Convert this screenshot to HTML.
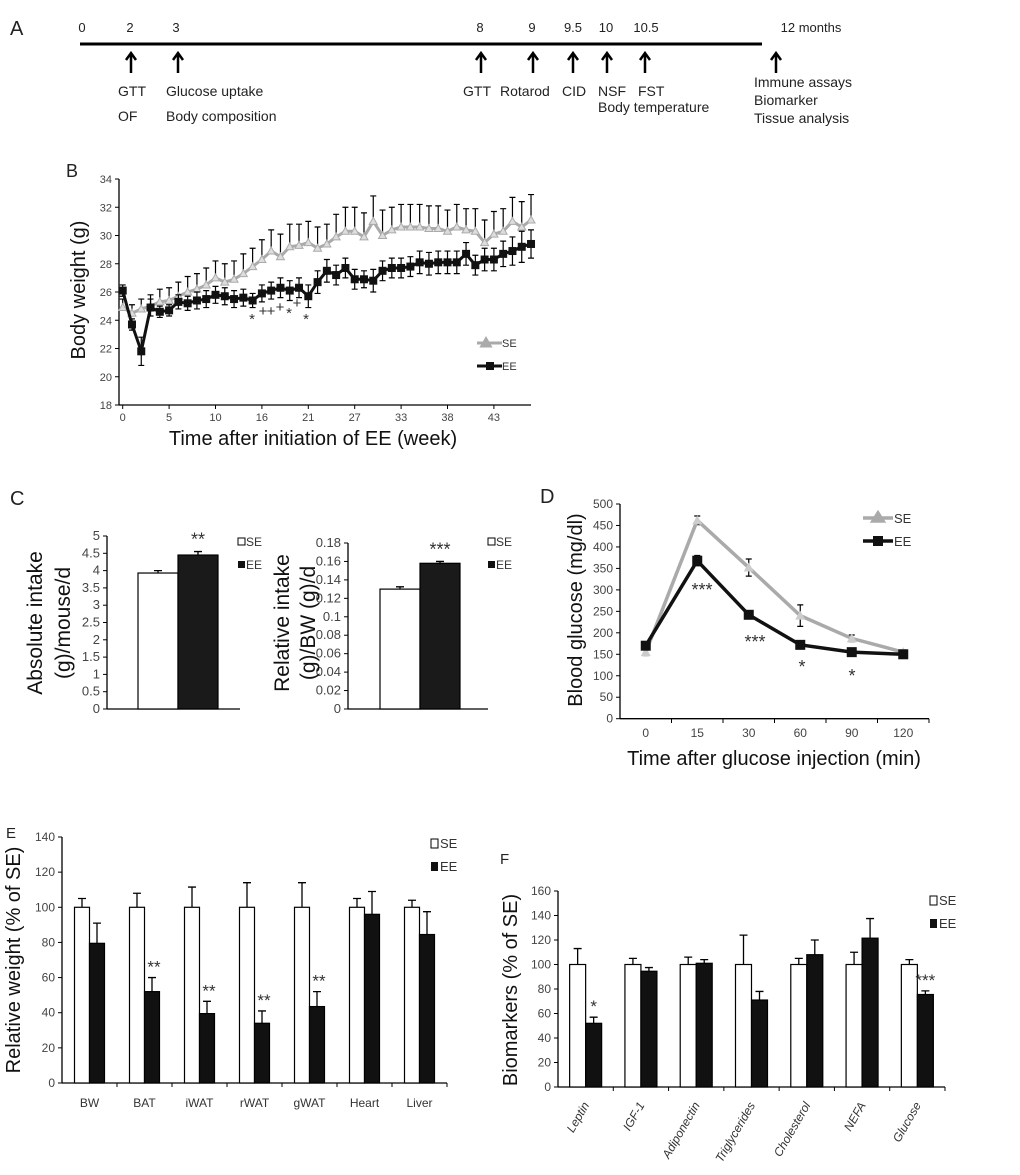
<!DOCTYPE html>
<html><head><meta charset="utf-8"><style>
html,body{margin:0;padding:0;background:#fff;}
svg{display:block;font-family:"Liberation Sans",Arial,sans-serif;}
.tk{font-size:11px;fill:#444;}
</style></head><body>
<svg id="fig" width="1020" height="1175" viewBox="0 0 1020 1175" xmlns="http://www.w3.org/2000/svg">
<g id="pA">
<text x="10" y="35" font-size="20" fill="#222">A</text>
<line x1="80" y1="44" x2="762" y2="44" stroke="#000" stroke-width="3"/>
</g>
<g id="pB"></g>
<g id="pC"></g>
<g id="pD"></g>
<g id="pE"></g>
<g id="pF"></g>
</svg>
<script>
// ---------- data ----------
const timelineMonths = ["0","2","3","8","9","9.5","10","10.5","12 months"];
const bWeekTicks = ["0","5","10","16","21","27","33","38","43"];
const bSE = [24.9,24.5,24.8,25.0,25.3,25.4,25.7,26.0,26.2,26.5,27.0,26.7,26.9,27.3,27.8,28.3,28.9,28.5,29.2,29.3,29.5,29.1,29.4,29.9,30.3,30.3,29.9,31.0,30.0,30.4,30.6,30.6,30.6,30.5,30.5,30.3,30.6,30.4,30.3,29.5,30.1,30.3,31.0,30.6,31.1];
const bSEerr = [0.6,0.6,0.7,0.8,0.9,0.9,1.0,1.1,1.1,1.2,1.2,1.3,1.3,1.4,1.3,1.4,1.5,1.6,1.6,1.5,1.5,1.5,1.4,1.6,1.7,1.7,1.7,1.8,1.8,1.6,1.6,1.6,1.6,1.6,1.6,1.5,1.6,1.5,1.6,1.6,1.6,1.6,1.7,1.8,1.8];
const bEE = [26.1,23.7,21.8,24.9,24.6,24.7,25.3,25.2,25.4,25.5,25.8,25.7,25.5,25.6,25.4,25.9,26.1,26.3,26.1,26.3,25.7,26.7,27.5,27.2,27.7,26.9,26.9,26.8,27.5,27.7,27.7,27.8,28.1,28.0,28.1,28.1,28.1,28.7,27.9,28.3,28.3,28.7,28.9,29.2,29.4];
const bEEerr = [0.4,0.4,1.0,0.6,0.4,0.4,0.5,0.5,0.6,0.6,0.6,0.6,0.6,0.6,0.5,0.6,0.6,0.7,0.7,0.7,0.8,0.8,0.8,0.7,0.7,0.7,0.6,0.8,0.7,0.7,0.7,0.7,0.8,0.8,0.8,0.8,0.8,0.8,0.7,0.8,0.8,0.9,1.0,1.1,1.0];
const cAbs = [3.93,4.45];
const cAbsErr = [0.07,0.1];
const cRel = [0.130,0.158];
const cRelErr = [0.0025,0.002];
const dTimes = ["0","15","30","60","90","120"];
const dSE = [155,462,352,240,187,155];
const dSEerr = [8,10,20,25,8,5];
const dEE = [170,368,242,172,155,150];
const dEEerr = [8,12,6,6,5,5];
const eCats = ["BW","BAT","iWAT","rWAT","gWAT","Heart","Liver"];
const eSE = [100,100,100,100,100,100,100];
const eSEerr = [5,8,11.5,14,14,5,4];
const eEE = [79.5,52,39.5,34,43.5,96,84.5];
const eEEerr = [11.5,8,7,7,8.5,13,13];
const eSig = ["","**","**","**","**","",""];
const fCats = ["Leptin","IGF-1","Adiponectin","Triglycerides","Cholesterol","NEFA","Glucose"];
const fSE = [100,100,100,100,100,100,100];
const fSEerr = [13,5,6,24,5,10,4];
const fEE = [52,94.5,101,71,108,121.5,75.5];
const fEEerr = [5,3,3,7,12,16,3];
const fSig = ["*","","","","","","***"];

const NS="http://www.w3.org/2000/svg";
function mk(parent,tag,attrs,txt){const e=document.createElementNS(NS,tag);for(const k in attrs)e.setAttribute(k,attrs[k]);if(txt!==undefined)e.textContent=txt;parent.appendChild(e);return e;}
function lin(d0,d1,r0,r1){return v=>r0+(v-d0)*(r1-r0)/(d1-d0);}

// ---------- A ----------
(function(){
 const g=document.getElementById('pA');
 const xs=[82,130,176,480,532,573,606,646,811];
 const arrows=[131,178,481,533,573,607,645,776];
 timelineMonths.forEach((m,i)=>{const t=mk(g,'text',{x:xs[i],y:32,'font-size':13,fill:'#222','text-anchor':'middle'},m);
 
 });
 arrows.forEach(x=>{const a=mk(g,'path',{d:`M${x} 73 V55 M${x-5} 60 L${x} 53 L${x+5} 60`,stroke:'#000','stroke-width':2.5,fill:'none'});
 
 });
 const labs=[["GTT",118,96],["OF",118,121],["Glucose uptake",166,96],["Body composition",166,121],["GTT",463,96],["Rotarod",500,96],["CID",562,96],["NSF",598,96],["FST",638,96],["Body temperature",598,112],["Immune assays",754,87],["Biomarker",754,105],["Tissue analysis",754,123]];
 labs.forEach(l=>{const t=mk(g,'text',{x:l[1],y:l[2],'font-size':14,fill:'#222'},l[0]);
 
 });
})();

function axisY(g,x,y0,y1,ticks,fmt,fs){
 mk(g,'line',{x1:x,y1:y0,x2:x,y2:y1,stroke:'#000','stroke-width':1.3});
 ticks.forEach(t=>{mk(g,'line',{x1:x-4,y1:t.y,x2:x,y2:t.y,stroke:'#000'});
 const tx=mk(g,'text',{x:x-7,y:t.y+4,'font-size':fs||11,fill:'#444','text-anchor':'end'},t.l);
 
 });
}
function errbar(g,x,yv,ye,w,up){const y2=up===false?ye:ye;mk(g,'path',{d:`M${x} ${yv} V${y2} M${x-w} ${y2} H${x+w}`,stroke:'#000','stroke-width':1.3,fill:'none'});}

// ---------- B ----------
(function(){
 const g=document.getElementById('pB');
 mk(g,'text',{x:66,y:177,'font-size':18,fill:'#222'},'B');
 const y=lin(18,34,405,179), x=i=>122.7+i*9.28;
 const ticks=[];for(let v=18;v<=34;v+=2)ticks.push({y:y(v),l:String(v)});
 axisY(g,119,179,405,ticks);
 mk(g,'line',{x1:119,y1:405,x2:531,y2:405,stroke:'#000','stroke-width':1.3});
 bWeekTicks.forEach((l,k)=>{const xx=x(k*5);mk(g,'line',{x1:xx,y1:405,x2:xx,y2:409,stroke:'#000'});
 const t=mk(g,'text',{x:xx,y:421,'font-size':11,fill:'#444','text-anchor':'middle'},l);
 
 });
 function series(vals,errs,color,name,marker){
  vals.forEach((v,i)=>{const e=mk(g,'path',{d:`M${x(i)} ${y(v)} V${y(v+errs[i])} M${x(i)-3} ${y(v+errs[i])} H${x(i)+3}`+(name==='ee'?` M${x(i)} ${y(v)} V${y(v-errs[i])} M${x(i)-3} ${y(v-errs[i])} H${x(i)+3}`:''),stroke:'#000','stroke-width':1.2,fill:'none'});
  
  });
  const p=mk(g,'polyline',{points:vals.map((v,i)=>x(i)+','+y(v)).join(' '),fill:'none',stroke:color,'stroke-width':3});
  
  
  vals.forEach((v,i)=>{let m;if(marker==='sq')m=mk(g,'rect',{x:x(i)-4,y:y(v)-4,width:8,height:8,fill:color});
  else m=mk(g,'path',{d:`M${x(i)} ${y(v)-4} L${x(i)+4} ${y(v)+3} L${x(i)-4} ${y(v)+3}Z`,fill:'#ddd',stroke:color});
  
  });
 }
 series(bSE,bSEerr,'#aaa','se','tri');
 series(bEE,bEEerr,'#111','ee','sq');
 [["*",252,324],["+",263,316],["+",271,316],["+",280,312],["*",289,318],["+",297,308],["*",306,324]].forEach(s=>{const t=mk(g,'text',{x:s[1],y:s[2],'font-size':15,fill:'#333','text-anchor':'middle'},s[0]);
 
 });
 const l1=mk(g,'path',{d:'M477 343 H502 M486 339 L490 346 L482 346Z',stroke:'#aaa','stroke-width':3,fill:'#aaa'});
 
 mk(g,'text',{x:502,y:347,'font-size':11,fill:'#333'},'SE');
 const l2=mk(g,'path',{d:'M477 366 H502',stroke:'#111','stroke-width':3});
 
 mk(g,'rect',{x:486,y:362,width:8,height:8,fill:'#111'});
 mk(g,'text',{x:502,y:370,'font-size':11,fill:'#333'},'EE');
 mk(g,'text',{x:313,y:445,'font-size':20,fill:'#111','text-anchor':'middle'},'Time after initiation of EE (week)');
 mk(g,'text',{x:0,y:0,'font-size':20,fill:'#111','text-anchor':'middle',transform:'translate(85 290) rotate(-90)'},'Body weight (g)');
})();

// ---------- C ----------
function barPair(g,ax,top,bot,xEnd,max,step,dec,vals,errs,sig,bx,legX,titles,tX){
 const y=lin(0,max,bot,top);const ticks=[];
 for(let k=0;k<=Math.round(max/step);k++){const v=k*step;ticks.push({y:y(v),l:(dec?v.toFixed(dec).replace(/^0\./,'0.').replace(/(\.\d*?)0+$/,'$1').replace(/\.$/,''):String(v))});}
 axisY(g,ax,top,bot,ticks,null,13);
 mk(g,'line',{x1:ax,y1:bot,x2:xEnd,y2:bot,stroke:'#000','stroke-width':1.3});
 const w=bx[1]-bx[0];
 vals.forEach((v,i)=>{const r=mk(g,'rect',{x:bx[i],y:y(v),width:w,height:bot-y(v),fill:i?'#1a1a1a':'#fff',stroke:'#000','stroke-width':1.2});
 
 
 errbar(g,bx[i]+w/2,y(v),y(v+errs[i]),4);});
 const s=mk(g,'text',{x:bx[1]+w/2,y:y(vals[1]+errs[1])-6,'font-size':18,fill:'#333','text-anchor':'middle'},sig);
 
 mk(g,'rect',{x:legX,y:538,width:7,height:7,fill:'#fff',stroke:'#000'});
 mk(g,'text',{x:legX+8,y:546,'font-size':12,fill:'#333'},'SE');
 mk(g,'rect',{x:legX,y:561,width:7,height:7,fill:'#111'});
 mk(g,'text',{x:legX+8,y:569,'font-size':12,fill:'#333'},'EE');
 titles.forEach((t,i)=>{const e=mk(g,'text',{x:0,y:0,'font-size':21,fill:'#111','text-anchor':'middle',transform:`translate(${tX[i]} 623) rotate(-90)`},t);
 
 });
}
(function(){
 const g=document.getElementById('pC');
 mk(g,'text',{x:10,y:505,'font-size':20,fill:'#222'},'C');
 barPair(g,107,536,709,240,5,0.5,1,cAbs,cAbsErr,'**',[138,178],238,['Absolute intake','(g)/mouse/d'],[42,70]);
 barPair(g,348,543,709,488,0.18,0.02,2,cRel,cRelErr,'***',[380,420],488,['Relative intake','(g)/BW (g)/d'],[289,315]);
})();

// ---------- D ----------
(function(){
 const g=document.getElementById('pD');
 mk(g,'text',{x:540,y:503,'font-size':20,fill:'#222'},'D');
 const y=lin(0,500,718.7,504), x=i=>645.75+i*51.5;
 const ticks=[];for(let v=0;v<=500;v+=50)ticks.push({y:y(v),l:String(v)});
 axisY(g,620,504,718.7,ticks,null,12);
 mk(g,'line',{x1:620,y1:718.7,x2:929,y2:718.7,stroke:'#000','stroke-width':1.3});
 dTimes.forEach((l,i)=>{mk(g,'line',{x1:620+(i+1)*51.5,y1:718.7,x2:620+(i+1)*51.5,y2:723,stroke:'#000'});
 const t=mk(g,'text',{x:x(i),y:737,'font-size':12,fill:'#444','text-anchor':'middle'},l);
 
 });
 function ser(vals,errs,color,name,sq){
  vals.forEach((v,i)=>{const e=mk(g,'path',{d:`M${x(i)-3} ${y(v+errs[i])} H${x(i)+3} M${x(i)} ${y(v+errs[i])} V${y(v-errs[i])} M${x(i)-3} ${y(v-errs[i])} H${x(i)+3}`,stroke:'#000','stroke-width':1.2,fill:'none'});
  
  });
  const p=mk(g,'polyline',{points:vals.map((v,i)=>x(i)+','+y(v)).join(' '),fill:'none',stroke:color,'stroke-width':3.5});
  
  
  vals.forEach((v,i)=>{const m=sq?mk(g,'rect',{x:x(i)-5,y:y(v)-5,width:10,height:10,fill:color}):mk(g,'path',{d:`M${x(i)} ${y(v)-5} L${x(i)+5} ${y(v)+4} L${x(i)-5} ${y(v)+4}Z`,fill:'#ccc'});
  
  });
 }
 ser(dSE,dSEerr,'#aaa','se',false);
 ser(dEE,dEEerr,'#111','ee',true);
 [["***",702,596],["***",755,648],["*",802,673],["*",852,682]].forEach(s=>{const t=mk(g,'text',{x:s[1],y:s[2],'font-size':18,fill:'#333','text-anchor':'middle'},s[0]);
 
 });
 mk(g,'path',{d:'M863 518 H893 M878 513 L883 521 L873 521Z',stroke:'#aaa','stroke-width':3.5,fill:'#aaa'});
 mk(g,'text',{x:894,y:523,'font-size':13,fill:'#333'},'SE');
 mk(g,'path',{d:'M863 541 H893',stroke:'#111','stroke-width':3.5});
 mk(g,'rect',{x:873,y:536,width:10,height:10,fill:'#111'});
 mk(g,'text',{x:894,y:546,'font-size':13,fill:'#333'},'EE');
 mk(g,'text',{x:774,y:765,'font-size':20,fill:'#111','text-anchor':'middle'},'Time after glucose injection (min)');
 mk(g,'text',{x:0,y:0,'font-size':20,fill:'#111','text-anchor':'middle',transform:'translate(582 610) rotate(-90)'},'Blood glucose (mg/dl)');
})();

// ---------- E / F ----------
function grouped(g,o){
 const y=lin(0,o.max,o.bot,o.top);const ticks=[];
 for(let v=0;v<=o.max;v+=20)ticks.push({y:y(v),l:String(v)});
 axisY(g,o.ax,o.top,o.bot,ticks,null,12);
 mk(g,'line',{x1:o.ax,y1:o.bot,x2:o.xEnd,y2:o.bot,stroke:'#000','stroke-width':1.3});
 const cw=(o.xEnd-o.ax)/o.cats.length, bw=o.bw;
 o.cats.forEach((c,i)=>{
  const cx=o.ax+cw*(i+0.5);
  mk(g,'line',{x1:o.ax+cw*(i+1),y1:o.bot,x2:o.ax+cw*(i+1),y2:o.bot+4,stroke:'#000'});
  const r1=mk(g,'rect',{x:cx-bw,y:y(o.se[i]),width:bw,height:o.bot-y(o.se[i]),fill:'#fff',stroke:'#000','stroke-width':1.2});
  
  
  errbar(g,cx-bw/2,y(o.se[i]),y(o.se[i]+o.seErr[i]),4);
  const r2=mk(g,'rect',{x:cx,y:y(o.ee[i]),width:bw,height:o.bot-y(o.ee[i]),fill:'#111',stroke:'#000','stroke-width':1.2});
  
  
  errbar(g,cx+bw/2,y(o.ee[i]),y(o.ee[i]+o.eeErr[i]),4);
  if(o.sig[i]){const s=mk(g,'text',{x:cx+bw/2+o.sigDx,y:y(o.ee[i]+o.eeErr[i])-5,'font-size':17,fill:'#333','text-anchor':'middle'},o.sig[i]);
  
  }
  const t=o.rot?mk(g,'text',{x:0,y:0,'font-size':12,fill:'#333','font-style':'italic','text-anchor':'end',transform:`translate(${cx+4} ${o.bot+18}) rotate(-60)`},c)
   :mk(g,'text',{x:cx,y:o.bot+24,'font-size':12,fill:'#333','text-anchor':'middle'},c);
  
  
 });
 mk(g,'rect',{x:o.legX,y:o.legY-8,width:7,height:9,fill:'#fff',stroke:'#000'});
 mk(g,'text',{x:o.legX+9,y:o.legY+1,'font-size':13,fill:'#333'},'SE');
 mk(g,'rect',{x:o.legX,y:o.legY+15,width:7,height:9,fill:'#111'});
 mk(g,'text',{x:o.legX+9,y:o.legY+24,'font-size':13,fill:'#333'},'EE');
 mk(g,'text',{x:0,y:0,'font-size':20,fill:'#111','text-anchor':'middle',transform:`translate(${o.tx} ${o.ty}) rotate(-90)`},o.title);
}
(function(){
 const g=document.getElementById('pE');
 mk(g,'text',{x:6,y:838,'font-size':15,fill:'#222'},'E');
 grouped(g,{ax:62,top:837,bot:1083,xEnd:447,max:140,cats:eCats,se:eSE,seErr:eSEerr,ee:eEE,eeErr:eEEerr,sig:eSig,bw:15,sigDx:2,rot:false,legX:431,legY:847,tx:20,ty:960,title:'Relative weight (% of SE)'});
})();
(function(){
 const g=document.getElementById('pF');
 mk(g,'text',{x:500,y:864,'font-size':15,fill:'#222'},'F');
 grouped(g,{ax:558,top:891,bot:1087,xEnd:945,max:160,cats:fCats,se:fSE,seErr:fSEerr,ee:fEE,eeErr:fEEerr,sig:fSig,bw:16,sigDx:0,rot:true,legX:930,legY:904,tx:517,ty:990,title:'Biomarkers (% of SE)'});
})();
</script>
</body></html>
